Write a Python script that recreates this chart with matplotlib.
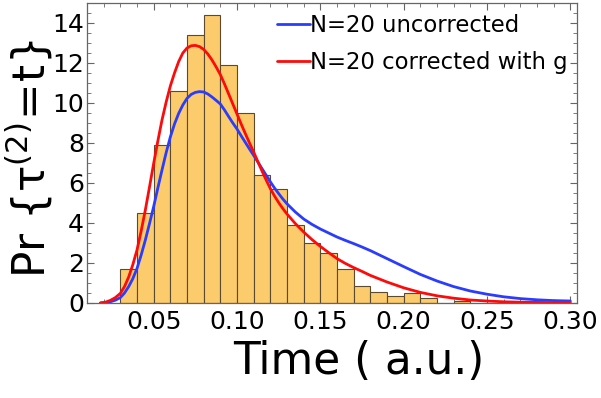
import numpy as np
import matplotlib
matplotlib.use("Agg")
import matplotlib.pyplot as plt
from matplotlib.ticker import MultipleLocator

# Histogram (bin edges every 0.01, heights)
bin_edges = [0.03, 0.04, 0.05, 0.06, 0.07, 0.08, 0.09, 0.10, 0.11, 0.12, 0.13,
             0.14, 0.15, 0.16, 0.17, 0.18, 0.19, 0.20, 0.21, 0.22, 0.23, 0.24]
bin_heights = [1.68, 4.48, 7.88, 10.58, 13.38, 14.38, 11.88, 9.48, 6.38, 5.68,
               3.88, 2.98, 2.52, 1.68, 0.87, 0.57, 0.37, 0.49, 0.27, 0.0, 0.12]

# Curve: N=20 uncorrected (blue)
blue_t = [0.018, 0.021, 0.024, 0.027, 0.03, 0.0325, 0.035, 0.0375, 0.04, 0.0425,
          0.045, 0.0475, 0.05, 0.0525, 0.055, 0.0575, 0.06, 0.0625, 0.065, 0.0675,
          0.07, 0.0725, 0.075, 0.0775, 0.08, 0.0825, 0.085, 0.0875, 0.09, 0.0925,
          0.095, 0.0975, 0.10, 0.1025, 0.105, 0.1075, 0.11, 0.1125, 0.115, 0.1175,
          0.12, 0.1225, 0.125, 0.1275, 0.13, 0.135, 0.14, 0.145, 0.15, 0.155,
          0.16, 0.165, 0.17, 0.175, 0.18, 0.19, 0.20, 0.21, 0.22, 0.23,
          0.24, 0.25, 0.26, 0.27, 0.28, 0.29, 0.30]
blue_p = [0.0, 0.02, 0.06, 0.14, 0.27, 0.5, 0.82, 1.22, 1.73, 2.4,
          3.15, 3.97, 4.82, 5.75, 6.65, 7.52, 8.3, 8.95, 9.48, 9.9,
          10.23, 10.43, 10.53, 10.57, 10.55, 10.45, 10.3, 10.13, 9.95, 9.65,
          9.32, 9.0, 8.7, 8.36, 8.03, 7.7, 7.38, 7.05, 6.72, 6.39,
          6.06, 5.75, 5.47, 5.2, 4.96, 4.55, 4.2, 3.93, 3.7, 3.5,
          3.3, 3.13, 2.97, 2.8, 2.62, 2.22, 1.82, 1.43, 1.1, 0.82,
          0.6, 0.44, 0.31, 0.22, 0.16, 0.12, 0.1]

# Curve: N=20 corrected with g (red)
red_t = [0.018, 0.021, 0.024, 0.027, 0.03, 0.0325, 0.035, 0.0375, 0.04, 0.0425,
         0.045, 0.0475, 0.05, 0.0525, 0.055, 0.0575, 0.06, 0.0625, 0.065, 0.0675,
         0.07, 0.0725, 0.075, 0.0775, 0.08, 0.0825, 0.085, 0.0875, 0.09, 0.0925,
         0.095, 0.0975, 0.10, 0.1025, 0.105, 0.1075, 0.11, 0.1125, 0.115, 0.1175,
         0.12, 0.1225, 0.125, 0.1275, 0.13, 0.135, 0.14, 0.145, 0.15, 0.155,
         0.16, 0.165, 0.17, 0.175, 0.18, 0.19, 0.20, 0.21, 0.22, 0.23,
         0.24, 0.25, 0.26, 0.27, 0.28, 0.29, 0.30]
red_p = [0.0, 0.04, 0.13, 0.27, 0.48, 0.82, 1.3, 1.92, 2.65, 3.6,
         4.65, 5.8, 6.98, 8.1, 9.15, 10.05, 10.85, 11.5, 12.07, 12.5,
         12.75, 12.86, 12.88, 12.82, 12.68, 12.45, 12.15, 11.8, 11.42, 10.95,
         10.45, 9.95, 9.45, 8.95, 8.47, 8.0, 7.55, 7.07, 6.6, 6.15,
         5.72, 5.35, 5.02, 4.72, 4.45, 3.97, 3.55, 3.17, 2.83, 2.52,
         2.22, 1.98, 1.77, 1.58, 1.38, 1.05, 0.76, 0.53, 0.36, 0.24,
         0.15, 0.1, 0.06, 0.04, 0.03, 0.02, 0.02]

labels = ["N=20 uncorrected", "N=20 corrected with g"]

W, H = 601, 398
fig = plt.figure(figsize=(W / 100, H / 100), dpi=100)
ax = fig.add_axes([87 / W, (H - 303) / H, (577 - 87) / W, (303 - 3) / H])

lefts = bin_edges[:-1]
widths = np.diff(bin_edges)
ax.bar(lefts, bin_heights, width=widths, align="edge", color="#FCCB6B",
       edgecolor="#5a4a30", linewidth=0.8, zorder=2)

ax.plot(blue_t, blue_p, color="#2A3CFF", lw=2.0, label=labels[0], zorder=3,
        solid_joinstyle="round", solid_capstyle="round")
ax.plot(red_t, red_p, color="#FF0A0A", lw=2.0, label=labels[1], zorder=4,
        solid_joinstyle="round", solid_capstyle="round")

ax.set_xlim(0.01, 0.304)
ax.set_ylim(0, 15)
ax.xaxis.set_minor_locator(MultipleLocator(0.01))
ax.yaxis.set_minor_locator(MultipleLocator(0.5))
ax.set_xticks([0.05, 0.10, 0.15, 0.20, 0.25, 0.30])
ax.set_xticklabels(["0.05", "0.10", "0.15", "0.20", "0.25", "0.30"])
ax.set_yticks([0, 2, 4, 6, 8, 10, 12, 14])

ax.tick_params(which="both", direction="in", top=True, right=True,
               color="#666666", labelsize=18)
ax.tick_params(which="major", length=5, width=0.8)
ax.tick_params(which="minor", length=3, width=0.6)
ax.tick_params(axis="x", pad=5)
ax.tick_params(axis="y", pad=2)
for s in ax.spines.values():
    s.set_color("#666666")
    s.set_linewidth(0.9)
    s.set_zorder(5)

leg = ax.legend(loc="upper right", bbox_to_anchor=(0.99, 0.98), frameon=False,
                fontsize=16.4, handlelength=1.45, handletextpad=0.0,
                labelspacing=0.62, borderpad=0.2, borderaxespad=0.0)

fig.text(359 / W, 1 - 362 / H, "Time ( a.u.)", fontsize=31.5, ha="center", va="center")
plt.rcParams["mathtext.default"] = "regular"
fig.text(29 / W, 1 - 159 / H, r"Pr $\{\tau^{(2)}\!=\!t\}$", fontsize=31.5,
         rotation=90, ha="center", va="center")

fig.savefig("out.png", dpi=100)
